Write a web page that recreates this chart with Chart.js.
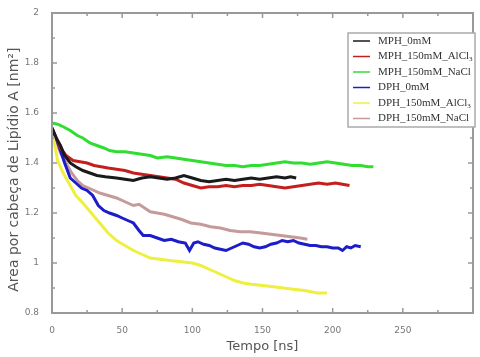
<!DOCTYPE html>
<html>
<head>
<meta charset="utf-8">
<script src="https://cdn.jsdelivr.net/npm/chart.js@4.4.0/dist/chart.umd.min.js"></script>
<style>
  html, body { margin: 0; padding: 0; background: #fff; }
  #wrap { width: 480px; height: 357px; }
</style>
</head>
<body>
<div id="wrap"><canvas id="areaChart"></canvas></div>
<script>
// series names as in the legend
const seriesNames = ['MPH_0mM', 'MPH_150mM_AlCl', 'MPH_150mM_NaCl', 'DPH_0mM', 'DPH_150mM_AlCl', 'DPH_150mM_NaCl'];
const xTicks = [0, 50, 100, 150, 200, 250];

// tempo (ns) / area (nm2)
const mph0Time = [0, 3, 6, 9, 13, 17, 22, 27, 32, 38, 46, 52, 58, 64, 70, 76, 82, 88, 94, 100, 106, 112, 118, 124, 130, 136, 142, 148, 154, 160, 166, 170, 174];
const mph0Area = [1.54, 1.50, 1.47, 1.43, 1.40, 1.385, 1.37, 1.36, 1.35, 1.345, 1.34, 1.335, 1.33, 1.34, 1.345, 1.34, 1.335, 1.34, 1.35, 1.34, 1.33, 1.325, 1.33, 1.335, 1.33, 1.335, 1.34, 1.335, 1.34, 1.345, 1.34, 1.345, 1.34];

const mphAlTime = [0, 3, 6, 10, 15, 20, 25, 30, 35, 40, 46, 52, 58, 64, 70, 76, 82, 88, 94, 100, 106, 112, 118, 124, 130, 136, 142, 148, 154, 160, 166, 172, 178, 184, 190, 196, 202, 207, 212];
const mphAlArea = [1.54, 1.50, 1.46, 1.43, 1.41, 1.405, 1.40, 1.39, 1.385, 1.38, 1.375, 1.37, 1.36, 1.355, 1.35, 1.345, 1.34, 1.335, 1.32, 1.31, 1.30, 1.305, 1.305, 1.31, 1.305, 1.31, 1.31, 1.315, 1.31, 1.305, 1.30, 1.305, 1.31, 1.315, 1.32, 1.315, 1.32, 1.315, 1.31];

const mphNaTime = [0, 4, 8, 13, 18, 22, 27, 32, 37, 41, 46, 52, 58, 64, 70, 75, 82, 88, 94, 100, 106, 112, 118, 124, 130, 136, 142, 148, 154, 160, 166, 172, 178, 184, 190, 196, 202, 208, 214, 220, 225, 229];
const mphNaArea = [1.56, 1.555, 1.545, 1.53, 1.51, 1.50, 1.48, 1.47, 1.46, 1.45, 1.445, 1.445, 1.44, 1.435, 1.43, 1.42, 1.425, 1.42, 1.415, 1.41, 1.405, 1.40, 1.395, 1.39, 1.39, 1.385, 1.39, 1.39, 1.395, 1.40, 1.405, 1.40, 1.40, 1.395, 1.40, 1.405, 1.40, 1.395, 1.39, 1.39, 1.385, 1.385];

const dph0Time = [0, 3, 6, 9, 13, 17, 21, 25, 29, 33, 37, 41, 46, 50, 54, 58, 62, 65, 70, 75, 80, 85, 90, 95, 98, 101, 104, 108, 112, 116, 120, 124, 128, 132, 136, 140, 144, 148, 152, 156, 160, 164, 168, 172, 176, 180, 184, 188, 192, 196, 200, 204, 207, 210, 213, 216, 220];
const dph0Area = [1.54, 1.50, 1.45, 1.40, 1.34, 1.32, 1.30, 1.29, 1.27, 1.23, 1.21, 1.20, 1.19, 1.18, 1.17, 1.16, 1.13, 1.11, 1.11, 1.10, 1.09, 1.095, 1.085, 1.08, 1.05, 1.08, 1.085, 1.075, 1.07, 1.06, 1.055, 1.05, 1.06, 1.07, 1.08, 1.075, 1.065, 1.06, 1.065, 1.075, 1.08, 1.09, 1.085, 1.09, 1.08, 1.075, 1.07, 1.07, 1.065, 1.065, 1.06, 1.06, 1.05, 1.065, 1.06, 1.07, 1.065];

const dphAlTime = [0, 2, 4, 8, 13, 17, 22, 28, 34, 40, 46, 52, 58, 64, 70, 77, 84, 92, 100, 106, 112, 118, 124, 130, 136, 142, 150, 158, 165, 172, 180, 189, 196];
const dphAlArea = [1.54, 1.47, 1.41, 1.36, 1.31, 1.27, 1.24, 1.20, 1.16, 1.12, 1.09, 1.07, 1.05, 1.035, 1.02, 1.015, 1.01, 1.005, 1.00, 0.99, 0.975, 0.96, 0.945, 0.93, 0.92, 0.915, 0.91, 0.905, 0.90, 0.895, 0.89, 0.88, 0.88];

const dphNaTime = [0, 3, 6, 10, 14, 18, 22, 26, 30, 34, 40, 46, 52, 58, 62, 66, 70, 75, 80, 86, 92, 99, 106, 113, 120, 127, 134, 141, 149, 156, 163, 170, 177, 182];
const dphNaArea = [1.54, 1.49, 1.44, 1.40, 1.36, 1.33, 1.31, 1.30, 1.29, 1.28, 1.27, 1.26, 1.245, 1.23, 1.235, 1.22, 1.205, 1.20, 1.195, 1.185, 1.175, 1.16, 1.155, 1.145, 1.14, 1.13, 1.125, 1.125, 1.12, 1.115, 1.11, 1.105, 1.10, 1.095];

const seriesColors = ['#1a1a1a', '#c41e1e', '#30dd30', '#1c1cc8', '#efef40', '#c49a9a'];

function toPoints(xs, ys) {
    return xs.map((x, i) => ({ x: x, y: ys[i] }));
}

const allSeries = [
    toPoints(mph0Time, mph0Area),
    toPoints(mphAlTime, mphAlArea),
    toPoints(mphNaTime, mphNaArea),
    toPoints(dph0Time, dph0Area),
    toPoints(dphAlTime, dphAlArea),
    toPoints(dphNaTime, dphNaArea)
];

// frame, inner ticks on all four sides
const framePlugin = {
    id: 'frame',
    afterDatasetsDraw(chart) {
        const ctx = chart.ctx;
        const a = chart.chartArea;
        const xs = chart.scales.x, ys = chart.scales.y;
        ctx.save();
        ctx.strokeStyle = '#999';
        ctx.lineWidth = 1.5;
        for (let v = 0; v <= 300; v += 25) {
            const px = xs.getPixelForValue(v);
            const len = v % 50 === 0 ? 5 : 3;
            ctx.beginPath();
            ctx.moveTo(px, a.bottom); ctx.lineTo(px, a.bottom - len);
            ctx.moveTo(px, a.top); ctx.lineTo(px, a.top + len);
            ctx.stroke();
        }
        for (let i = 0; i <= 12; i++) {
            const v = 0.8 + i * 0.1;
            const py = ys.getPixelForValue(v);
            const len = i % 2 === 0 ? 5 : 3;
            ctx.beginPath();
            ctx.moveTo(a.left, py); ctx.lineTo(a.left + len, py);
            ctx.moveTo(a.right, py); ctx.lineTo(a.right - len, py);
            ctx.stroke();
        }
        ctx.lineWidth = 2;
        ctx.strokeRect(a.left, a.top, a.right - a.left, a.bottom - a.top);
        ctx.restore();
    }
};

// legend box inside the plot, top right
const legendBoxPlugin = {
    id: 'legendBox',
    afterDraw(chart) {
        const ctx = chart.ctx;
        const a = chart.chartArea;
        const bx = a.right - 125, by = a.top + 20, bw = 127, bh = 94;
        ctx.save();
        ctx.fillStyle = '#fff';
        ctx.fillRect(bx, by, bw, bh);
        ctx.strokeStyle = '#aaa';
        ctx.lineWidth = 1.5;
        ctx.strokeRect(bx, by, bw, bh);
        chart.data.datasets.forEach((ds, i) => {
            const cy = by + 8 + i * 15.5;
            ctx.strokeStyle = ds.borderColor;
            ctx.lineWidth = 1.5;
            ctx.beginPath();
            ctx.moveTo(bx + 5, cy); ctx.lineTo(bx + 22, cy);
            ctx.stroke();
            ctx.fillStyle = '#333';
            ctx.font = '11px "Liberation Serif"';
            ctx.textBaseline = 'middle';
            ctx.fillText(ds.label, bx + 30, cy);
            if (ds.label.endsWith('AlCl')) {
                const w = ctx.measureText(ds.label).width;
                ctx.font = '7px "Liberation Serif"';
                ctx.fillText('3', bx + 30 + w, cy + 3);
            }
        });
        ctx.restore();
    }
};

new Chart(document.getElementById('areaChart'), {
    type: 'line',
    data: {
        datasets: allSeries.map((pts, i) => ({
            label: seriesNames[i],
            data: pts,
            borderColor: seriesColors[i],
            borderWidth: 3,
            pointRadius: 0,
            tension: 0,
            fill: false
        }))
    },
    options: {
        responsive: true,
        maintainAspectRatio: false,
        animation: false,
        layout: { padding: { top: 13, right: 7, left: 0, bottom: 0 } },
        plugins: {
            legend: { display: false },
            tooltip: { enabled: false }
        },
        scales: {
            x: {
                type: 'linear',
                min: 0,
                max: 300,
                afterBuildTicks: (scale) => { scale.ticks = xTicks.map(v => ({ value: v })); },
                afterFit: (scale) => { scale.height = 44; },
                ticks: {
                    color: '#777',
                    font: { family: 'DejaVu Sans', size: 9 },
                    padding: 4
                },
                grid: { display: false },
                border: { display: false },
                title: {
                    display: true,
                    text: 'Tempo [ns]',
                    color: '#555',
                    font: { family: 'DejaVu Sans', size: 13 },
                    padding: { top: 2, bottom: 3 }
                }
            },
            y: {
                min: 0.8,
                max: 2,
                afterFit: (scale) => { scale.width = 52; },
                ticks: {
                    stepSize: 0.2,
                    color: '#777',
                    font: { family: 'DejaVu Sans', size: 9 },
                    padding: 5,
                    callback: (v) => parseFloat(v.toFixed(1))
                },
                grid: { display: false },
                border: { display: false },
                title: {
                    display: true,
                    text: 'Area por cabeça de Lipídio A [nm²]   ',
                    color: '#555',
                    font: { family: 'DejaVu Sans', size: 14 },
                    padding: { top: 6, bottom: 2 }
                }
            }
        }
    },
    plugins: [framePlugin, legendBoxPlugin]
});
</script>
</body>
</html>
